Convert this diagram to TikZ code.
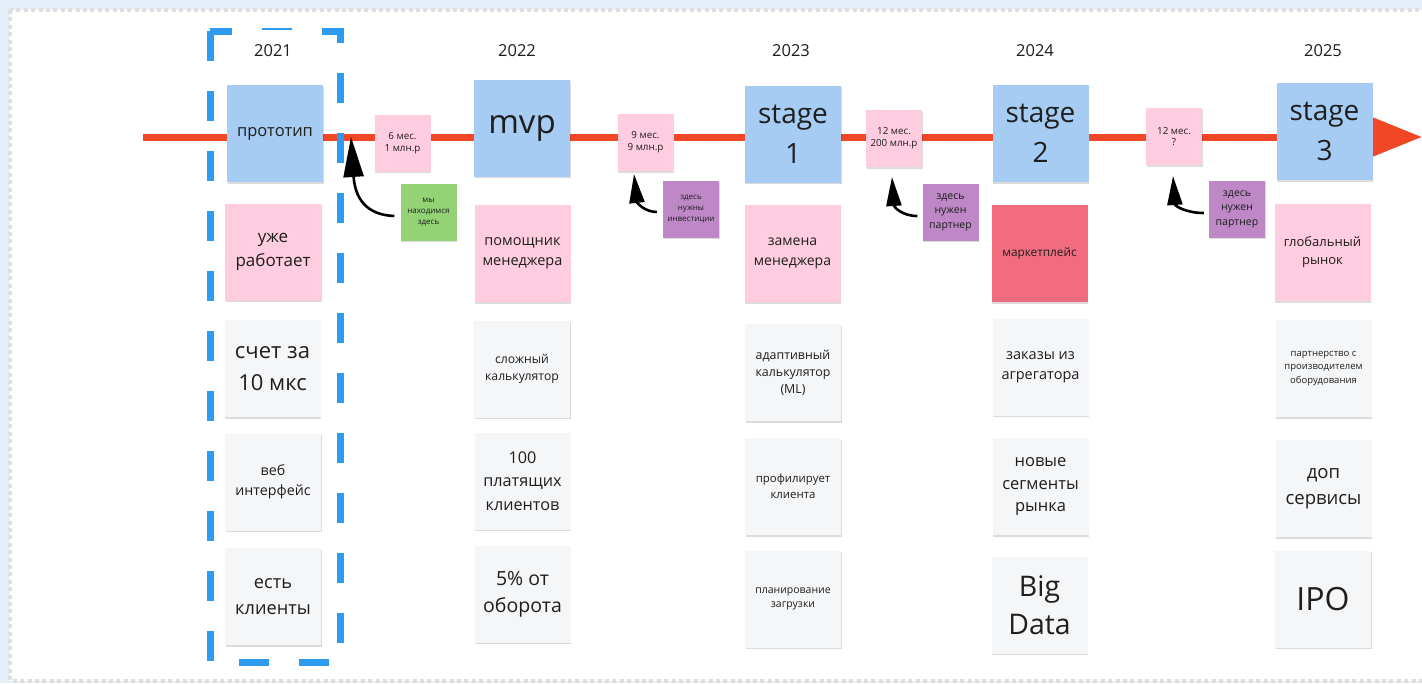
\documentclass[tikz,border=0pt]{standalone}
\usepackage{fontspec}
\setmainfont{Open Sans}
\usetikzlibrary{arrows.meta,shadows}
\definecolor{nblue}{HTML}{A6CCF3}
\definecolor{npink}{HTML}{FFCCE0}
\definecolor{nred}{HTML}{F16C7F}
\definecolor{ngray}{HTML}{F5F6F8}
\definecolor{ngreen}{HTML}{93D275}
\definecolor{npurple}{HTML}{BE88C7}
\definecolor{tlred}{HTML}{F24726}
\definecolor{dblue}{HTML}{2D9BF0}
\definecolor{txt}{HTML}{1E1E1E}
\definecolor{bgblue}{HTML}{E5EFFA}
\definecolor{dotgray}{HTML}{DEDEDE}
\newcommand{\fz}[1]{\fontsize{#1}{\dimexpr #1pt*138/100\relax}\selectfont}
\newcommand{\fzs}[1]{\fontsize{#1}{\dimexpr #1pt*120/100\relax}\selectfont}
\tikzset{
  shad/.style={drop shadow={shadow xshift=0.8pt, shadow yshift=-1.8pt, opacity=0.14, fill=black}},
  note/.style={shad, minimum width=96pt, minimum height=97pt, inner sep=2pt, align=center, text=txt},
  bluebox/.style={note, fill=nblue},
  pinkbox/.style={note, fill=npink},
  redbox/.style={note, fill=nred},
  graybox/.style={note, fill=ngray},
  smallnote/.style={shad, minimum width=56pt, minimum height=57pt, inner sep=1pt, align=center, text=txt},
  costbox/.style={smallnote, fill=npink, font=\fzs{9.8}},
  greennote/.style={smallnote, fill=ngreen, font=\fz{8}},
  purplenote/.style={smallnote, fill=npurple, font=\fz{10.5}},
  yearlabel/.style={fill=white, minimum width=56pt, minimum height=43pt, inner sep=0pt, text=txt, font=\fz{16.5}},
  stagefont/.style={font=\fontsize{28}{40}\selectfont},
  timeline/.style={tlred, line width=7pt},
  pointer/.style={black, line width=2.6pt},
}
\begin{document}
\begin{tikzpicture}[x=1pt,y=-1pt]
\useasboundingbox (0,0) rectangle (1422,683);
\fill[bgblue] (0,0) rectangle (1422,683);
\draw[dotgray, line width=4pt, dash pattern=on 4pt off 3.4pt, fill=white] (10,10) rectangle (1450,680.5);

% timeline
\coordinate (tlstart) at (143,137);
\coordinate (tlend) at (1422,137);
\draw[timeline, -{Triangle[length=50pt,width=38pt]}] (tlstart) -- (tlend);

% stage boxes
\node[bluebox, font=\fz{16.5}] (proto) at (275,133.5) {прототип};
\node[bluebox, font=\fz{33}] (mvp) at (522,128) {mvp};
\node[bluebox, stagefont] (s1) at (793,134) {stage\\1};
\node[bluebox, stagefont] (s2) at (1040.5,133.5) {stage\\2};
\node[bluebox, stagefont] (s3) at (1324.5,131.5) {stage\\3};

% cost notes
\node[costbox] (c1) at (402.5,143) {6 мес.\\1 млн.р};
\node[costbox] (c2) at (645.5,142.5) {9 мес.\\9 млн.р};
\node[costbox] (c3) at (894,138.5) {12 мес.\\200 млн.р};
\node[costbox] (c4) at (1174,136.5) {12 мес.\\?};

% comment notes
\node[greennote] (g1) at (428.5,212) {мы\\находимся\\здесь};
\node[purplenote, font=\fz{8}] (pu1) at (691,209) {здесь\\нужны\\инвестиции};
\node[purplenote] (pu2) at (950.5,212) {здесь\\нужен\\партнер};
\node[purplenote] (pu3) at (1237,209) {здесь\\нужен\\партнер};

% row 2
\node[pinkbox, font=\fz{17}] (r2a) at (273,252) {уже\\работает};
\node[pinkbox, font=\fz{14.5}] (r2b) at (522.5,253.5) {помощник\\менеджера};
\node[pinkbox, font=\fz{14}] (r2c) at (792.5,253.5) {замена\\менеджера};
\node[redbox, font=\fz{11.8}] (r2d) at (1039.5,253.5) {маркетплейс};
\node[pinkbox, font=\fz{13}] (r2e) at (1322.5,252.5) {глобальный\\рынок};

% row 3
\node[graybox, font=\fontsize{22}{32}\selectfont] (r3a) at (272.5,368.5) {счет за\\10 мкс};
\node[graybox, font=\fz{12.2}] (r3b) at (522,369) {сложный\\калькулятор};
\node[graybox, font=\fz{12.4}] (r3c) at (793,372.5) {адаптивный\\калькулятор\\(ML)};
\node[graybox, font=\fz{14.5}] (r3d) at (1040.5,367) {заказы из\\агрегатора};
\node[graybox, font=\fz{9.5}] (r3e) at (1323.5,368.5) {партнерство с\\производителем\\оборудования};

% row 4
\node[graybox, font=\fz{14.2}] (r4a) at (273,482) {веб\\интерфейс};
\node[graybox, font=\fontsize{16.2}{23.3}\selectfont] (r4b) at (522.5,481) {100\\платящих\\клиентов};
\node[graybox, font=\fz{11.4}] (r4c) at (793,486.5) {профилирует\\клиента};
\node[graybox, font=\fz{16.5}] (r4d) at (1040.5,486.5) {новые\\сегменты\\рынка};
\node[graybox, font=\fz{18.5}] (r4e) at (1323.5,488.5) {доп\\сервисы};

% row 5
\node[graybox, font=\fontsize{18.2}{26}\selectfont] (r5a) at (273,596.5) {есть\\клиенты};
\node[graybox, font=\fontsize{19.5}{27}\selectfont] (r5b) at (522.5,594) {5\% от\\оборота};
\node[graybox, font=\fz{10.5}] (r5c) at (793,599) {планирование\\загрузки};
\node[graybox, font=\fontsize{28.4}{38.5}\selectfont] (r5d) at (1039.5,605) {Big\\Data};
\node[graybox, font=\fz{32}] (r5e) at (1323,599) {IPO};

% current-year frame
\coordinate (fa) at (210,31);
\coordinate (fb) at (210,662);
\coordinate (fc) at (340,662);
\coordinate (fd) at (340,31);
\draw[dblue, line width=7pt, dash pattern=on 30pt off 30pt] (fa) -- (fb) -- (fc) -- (fd) -- cycle;

% years
\node[yearlabel] (y21) at (273,51) {2021};
\node[yearlabel] (y22) at (517,51) {2022};
\node[yearlabel] (y23) at (791,51) {2023};
\node[yearlabel] (y24) at (1035,51) {2024};
\node[yearlabel] (y25) at (1323,51) {2025};

% pointers
\coordinate (t1) at (351,137);
\coordinate (t2) at (634,174);
\coordinate (t3) at (892,177);
\coordinate (t4) at (1173,176);
\draw[pointer, -{Triangle[length=40pt,width=20pt]}] ([xshift=-6pt,yshift=-4pt]g1.west) .. controls (366,215) and (355,198) .. (t1);
\draw[pointer, -{Triangle[length=29pt,width=15pt]}] ([xshift=-6pt,yshift=-3pt]pu1.west) .. controls (645,212) and (637,203) .. (t2);
\draw[pointer, -{Triangle[length=29pt,width=15pt]}] ([xshift=-5pt,yshift=-4pt]pu2.west) .. controls (902,216) and (894,207) .. (t3);
\draw[pointer, -{Triangle[length=29pt,width=15pt]}] ([xshift=-5pt,yshift=-4pt]pu3.west) .. controls (1186,213) and (1175,206) .. (t4);
\end{tikzpicture}
\end{document}
